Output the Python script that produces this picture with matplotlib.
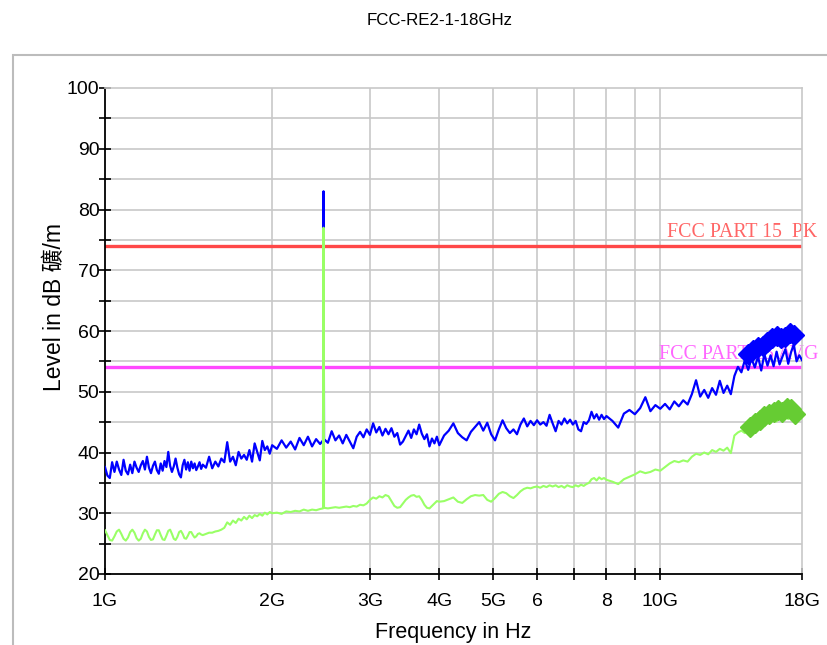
import matplotlib
matplotlib.use('Agg')
import matplotlib.pyplot as plt
from matplotlib.patches import Rectangle

# FCC radiated emission scan, 1-18 GHz

plt.rcParams['font.family'] = ['Liberation Sans', 'Noto Sans CJK SC', 'DejaVu Sans']

# sweep frequencies (GHz)
freq_ghz = [
    1.00, 1.01, 1.02, 1.03, 1.04, 1.05, 1.06, 1.07, 1.08, 1.09,
    1.10, 1.11, 1.12, 1.13, 1.14, 1.15, 1.16, 1.17, 1.18, 1.19,
    1.20, 1.21, 1.22, 1.23, 1.24, 1.25, 1.26, 1.27, 1.28, 1.29,
    1.30, 1.31, 1.32, 1.33, 1.34, 1.35, 1.36, 1.37, 1.38, 1.39,
    1.40, 1.41, 1.42, 1.43, 1.44, 1.45, 1.46, 1.47, 1.48, 1.49, 1.50,
    1.52, 1.54, 1.56, 1.58, 1.60, 1.62, 1.64, 1.66, 1.68, 1.70,
    1.72, 1.74, 1.76, 1.78, 1.80, 1.82, 1.84, 1.86, 1.88, 1.90,
    1.92, 1.94, 1.96, 1.98, 2.00,
    2.04, 2.08, 2.12, 2.16, 2.20, 2.24, 2.28, 2.32, 2.36, 2.40,
    2.44, 2.47, 2.475, 2.48, 2.52, 2.56, 2.60, 2.64, 2.68, 2.72,
    2.76, 2.80, 2.84, 2.88, 2.92, 2.96, 3.00, 3.04, 3.08, 3.12,
    3.16, 3.20, 3.24, 3.28, 3.32, 3.36, 3.40, 3.44, 3.48, 3.52,
    3.56, 3.60, 3.64, 3.68, 3.72, 3.76, 3.80, 3.84, 3.88, 3.92,
    3.96, 4.00,
    4.08, 4.16, 4.24, 4.32, 4.40, 4.48, 4.56, 4.64, 4.72, 4.80,
    4.88, 4.96, 5.04, 5.12, 5.20, 5.28, 5.36, 5.44, 5.52, 5.60,
    5.68, 5.76, 5.84, 5.92, 6.00, 6.08, 6.16, 6.24, 6.32, 6.40,
    6.48, 6.56, 6.64, 6.72, 6.80, 6.88, 6.96, 7.04, 7.12, 7.20,
    7.28, 7.36, 7.44, 7.52, 7.60, 7.68, 7.76, 7.84, 7.92, 8.00,
    8.2, 8.4, 8.6, 8.8, 9.0, 9.2, 9.4, 9.6, 9.8, 10.0,
    10.2, 10.4, 10.6, 10.8, 11.0, 11.2, 11.4, 11.6, 11.8, 12.0,
    12.2, 12.4, 12.6, 12.8, 13.0, 13.2, 13.4, 13.6, 13.8, 14.0,
    14.2, 14.4, 14.6, 14.8, 15.0, 15.2, 15.4, 15.6, 15.8, 16.0,
    16.2, 16.4, 16.6, 16.8, 17.0, 17.2, 17.4, 17.6, 17.8, 18.0,
]

# peak detector trace (dB)
peak_level = [
    37.6, 36.2, 35.8, 38.4, 36.8, 38.5, 37.2, 36.3, 38.8, 37.0,
    36.4, 38.0, 36.6, 38.5, 37.5, 36.8, 37.9, 38.6, 37.2, 39.3,
    37.5, 36.6, 37.8, 38.5, 37.1, 36.5, 38.2, 37.0, 38.6, 37.6,
    40.1, 37.8, 36.8, 37.7, 39.0, 37.5, 36.4, 35.9, 37.9, 38.8,
    37.2, 38.4, 37.0, 38.5, 37.4, 38.2, 37.1, 37.7, 38.4, 37.3, 38.0,
    37.5, 39.3, 37.4, 38.5, 37.7, 39.0, 38.4, 41.7, 38.5, 39.3,
    37.9, 40.1, 39.0, 39.6, 38.8, 40.4, 38.5, 41.5, 40.1, 38.7,
    41.9, 40.4, 41.0, 39.8, 41.2,
    40.6, 42.0, 40.8, 41.8, 40.5, 42.4, 41.2, 42.6, 41.0, 42.2,
    41.4, 42.0, 83.0, 42.2, 41.6, 43.5, 42.0, 42.8, 41.5, 42.9,
    41.8, 40.7, 42.6, 43.4, 42.5, 43.8, 42.9, 44.8, 43.3, 44.2,
    42.8, 43.9, 43.0, 44.0, 42.6, 43.2, 41.3, 41.8, 42.7, 43.6,
    42.4, 43.8, 43.0, 44.6, 43.1, 42.2, 43.0, 41.0, 42.3, 41.5,
    42.6, 41.2,
    42.8, 43.6, 44.8, 43.2, 42.5, 42.0, 43.4, 44.2, 45.0, 43.6,
    44.9, 43.0, 42.0, 43.8, 45.3, 44.0, 43.2, 43.8, 43.0, 44.6,
    45.6, 44.3, 45.2, 44.5, 45.3, 44.6, 45.0, 44.4, 46.2, 44.8,
    43.5, 45.2, 44.6, 45.6, 44.8, 45.4, 44.6, 45.2, 43.8, 43.5,
    45.0, 44.7, 45.3, 46.7, 45.6, 46.3, 45.4, 46.2, 45.5, 46.0,
    45.2, 44.1, 46.4, 47.0, 46.3, 47.3, 49.1, 46.8, 47.8, 47.2,
    48.0, 47.1, 48.4, 47.6, 48.6, 47.9, 49.6, 51.9, 49.2, 50.3,
    49.0, 50.6, 49.5, 51.8, 49.8, 51.0, 49.6, 52.6, 54.1, 53.2,
    55.2, 53.6, 55.5, 54.0, 55.8, 53.5, 56.2, 54.3, 56.0, 54.2,
    56.6, 54.5, 55.8, 57.0, 54.6, 56.5, 57.8, 55.0, 56.0, 55.2,
]

# average detector trace (dB)
avg_level = [
    27.2, 26.4, 25.6, 25.5, 26.2, 27.0, 27.3, 26.6, 25.8, 25.5,
    26.0, 26.9, 27.3, 26.8, 25.9, 25.5, 25.8, 26.7, 27.3, 27.0,
    26.1, 25.6, 25.7, 26.5, 27.2, 27.2, 26.4, 25.7, 25.6, 26.3,
    27.1, 27.3, 26.6, 25.8, 25.6, 26.1, 26.9, 27.1, 26.6, 25.9,
    25.8, 26.3, 26.9, 26.9, 26.4, 26.0, 26.2, 26.6, 26.7, 26.5, 26.4,
    26.6, 26.8, 26.8, 27.0, 27.1, 27.3, 27.6, 28.5, 28.1, 28.8,
    28.4, 29.1, 28.8, 29.4, 29.0, 29.6, 29.2, 29.7, 29.5, 29.9,
    29.6, 30.1, 29.8, 30.2, 30.0,
    30.1, 29.9, 30.3, 30.2, 30.4, 30.3, 30.6, 30.4, 30.6, 30.5,
    30.7, 30.8, 77.0, 30.9, 30.8, 30.9, 31.0, 30.9, 31.0, 31.1,
    31.0, 31.2, 31.1, 31.4, 31.3, 31.6, 32.2, 32.6, 32.4, 32.8,
    32.6, 33.0, 32.8, 32.0, 31.2, 30.9, 31.0, 31.6, 32.2, 32.6,
    32.9, 33.0, 32.7, 32.8, 32.2, 31.4, 30.9, 30.8, 31.2, 31.6,
    32.0, 31.9,
    32.0, 32.3, 32.6, 31.9, 31.7, 32.3, 32.8, 33.0, 32.9, 33.0,
    32.2, 31.9, 32.5, 33.2, 33.5, 33.3, 32.8, 32.5, 33.0, 33.6,
    34.0, 34.2, 34.1, 34.3, 34.4, 34.2, 34.5, 34.3, 34.6, 34.4,
    34.6, 34.3, 34.5, 34.2, 34.6, 34.4, 34.3, 34.6, 34.4, 34.7,
    34.5, 34.8, 35.0, 35.6, 35.8, 35.4, 35.9, 35.6, 35.8, 35.5,
    35.2, 34.8, 35.6, 36.0, 36.4, 36.9, 36.6, 36.8, 37.2, 37.0,
    37.6, 38.2, 38.6, 38.4, 38.7, 38.5, 39.3, 39.8, 39.6, 40.0,
    39.7, 40.4, 40.1, 40.6, 40.3, 40.8, 39.9, 42.8, 43.3, 43.6,
    43.2, 44.0, 43.6, 44.4, 44.1, 44.9, 44.5, 45.2, 44.8, 45.6,
    45.1, 45.8, 45.4, 46.0, 45.5, 46.1, 45.7, 45.9, 45.4, 45.7,
]

# final measurement points
pk_final_freq = [14.4, 14.7, 15.0, 15.3, 15.6, 15.9, 16.2, 16.5, 16.8, 17.1, 17.4]
pk_final_level = [56.2, 56.8, 57.4, 57.6, 58.2, 58.8, 59.2, 58.8, 59.0, 59.6, 59.4]
av_final_freq = [14.5, 14.8, 15.1, 15.4, 15.7, 16.0, 16.3, 16.6, 16.9, 17.2, 17.5]
av_final_level = [44.2, 44.8, 45.4, 46.0, 46.4, 46.6, 47.0, 46.6, 47.4, 47.2, 46.4]

# limit lines
pk_limit = 74
av_limit = 54

xticks = [1, 2, 3, 4, 5, 6, 7, 8, 9, 10, 18]
xtick_labels = ['1G', '2G', '3G', '4G', '5G', '6', '', '8', '', '10G', '18G']

fig = plt.figure(figsize=(8.27, 6.45), dpi=100)
fig.add_artist(Rectangle((13 / 827, -0.05), 1.0, 1 - 55 / 645 + 0.05, transform=fig.transFigure,
                         fill=False, edgecolor='#bcbcbc', lw=1.5))
fig.text(0.532, 0.968, 'FCC-RE2-1-18GHz', ha='center', va='center', fontsize=12.2)

ax = fig.add_axes([105 / 827, 1 - 574 / 645, (802 - 105) / 827, (574 - 88) / 645])
ax.set_xscale('log')
ax.set_xlim(1, 18)
ax.set_ylim(20, 100)

for x in xticks[1:-1]:
    ax.axvline(x, color='#c8c8c8', lw=1.2, zorder=0.5)
for y in range(25, 100, 5):
    ax.axhline(y, color='#c8c8c8', lw=1.2, zorder=0.5)

ax.axhline(pk_limit, color='#ff4848', lw=2.4, zorder=2)
ax.axhline(av_limit, color='#ff48ff', lw=2.4, zorder=2)
ax.text(10.3, pk_limit + 0.6, 'FCC PART 15  PK', color='#ff6666', family='Liberation Serif',
        fontsize=14.3, ha='left', va='bottom', clip_on=False, zorder=2.5)
ax.text(9.96, av_limit + 0.6, 'FCC PART 15 AVG', color='#ff66ff', family='Liberation Serif',
        fontsize=14.3, ha='left', va='bottom', clip_on=False, zorder=2.5)

ax.plot(freq_ghz, peak_level, color='#0000ff', lw=1.6, zorder=3)
ax.plot(freq_ghz, avg_level, color='#99ff66', lw=1.5, zorder=4)
ax.plot(pk_final_freq, pk_final_level, 'D', color='#0000ff', ms=10, zorder=5, clip_on=False)
ax.plot(av_final_freq, av_final_level, 'D', color='#66cc33', ms=10, zorder=5, clip_on=False)

ax.set_xticks(xticks)
ax.set_xticklabels(xtick_labels)
ax.minorticks_off()
ax.set_yticks(range(20, 101, 10))
ax.set_yticks(range(25, 100, 10), minor=True)
ax.tick_params(axis='both', which='both', direction='inout', length=8, width=1.2, labelsize=14)
ax.tick_params(axis='y', pad=0)
ax.tick_params(axis='x', pad=10)

ax.spines['left'].set_linewidth(1.3)
ax.spines['bottom'].set_linewidth(1.3)
ax.spines['top'].set_color('#c8c8c8')
ax.spines['right'].set_color('#c8c8c8')
ax.spines['top'].set_linewidth(1.2)
ax.spines['right'].set_linewidth(1.2)

ax.set_xlabel('Frequency in Hz', fontsize=15.5, labelpad=8)
ax.set_ylabel('Level in dB 礦/m', fontsize=16.5)
ax.yaxis.set_label_coords(-0.056, 0.55)

plt.savefig('out.png', dpi=100)
plt.close()
